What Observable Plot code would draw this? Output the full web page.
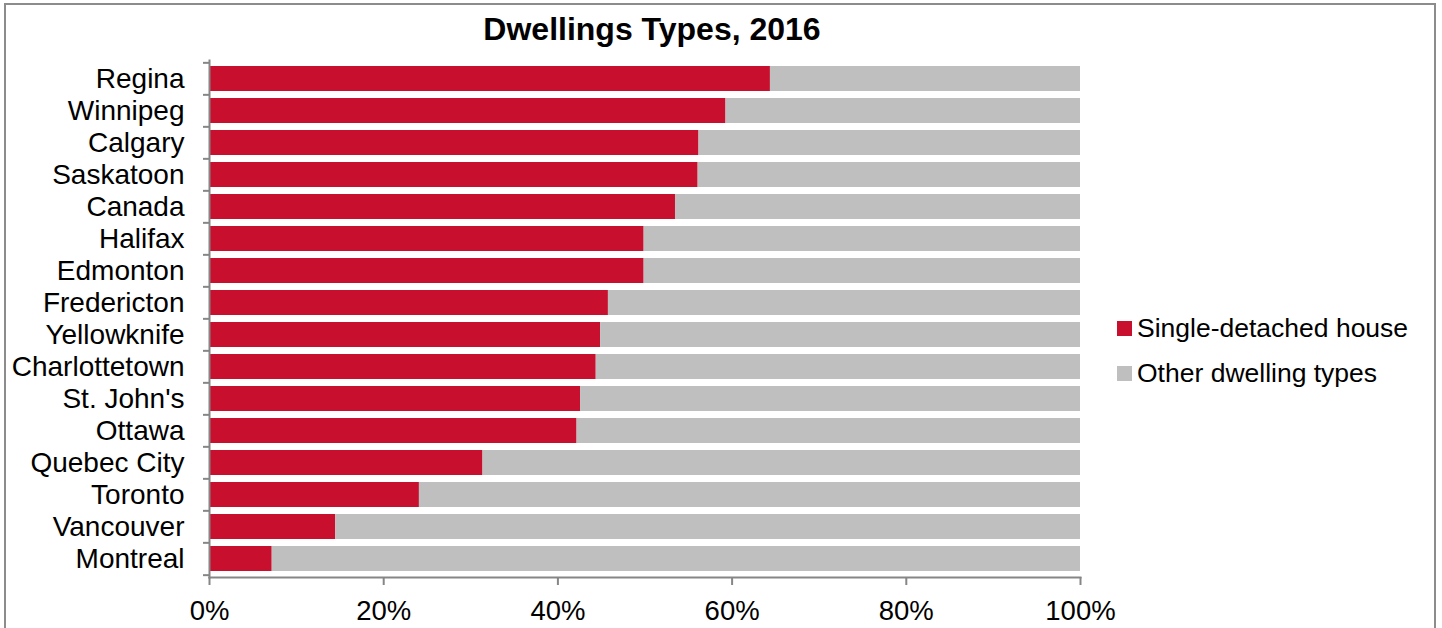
<!DOCTYPE html>
<html>
<head>
<meta charset="utf-8">
<script src="https://cdn.jsdelivr.net/npm/d3@7"></script>
<script src="https://cdn.jsdelivr.net/npm/@observablehq/plot@0.6"></script>
<style>
  html, body { margin: 0; padding: 0; background: #fff; }
  body { width: 1442px; height: 628px; overflow: hidden; font-family: "Liberation Sans", Arial, sans-serif; }
  #wrap { position: relative; width: 1442px; height: 628px; }
  #border { position: absolute; left: 4px; top: 3px; width: 1432px; height: 640px; border: 2px solid #8c8c8c; box-sizing: border-box; }
  #title { position: absolute; left: 452px; width: 400px; top: 13px; text-align: center; font-size: 32px; line-height: 32px; font-weight: bold; color: #000; white-space: nowrap; }
  #chart { position: absolute; left: 0; top: 56px; }
  .leg { position: absolute; left: 1117px; display: flex; align-items: center; height: 30px; font-size: 26.5px; color: #000; white-space: nowrap; }
  .sw { width: 15px; height: 15px; margin-right: 5px; }
</style>
</head>
<body>
<div id="wrap">
  <div id="border"></div>
  <div id="title">Dwellings Types, 2016</div>
  <div id="chart"></div>
  <div id="legend"></div>
</div>
<script>
const cities = ["Regina","Winnipeg","Calgary","Saskatoon","Canada","Halifax","Edmonton","Fredericton","Yellowknife","Charlottetown","St. John's","Ottawa","Quebec City","Toronto","Vancouver","Montreal"];
const singleDetached = [64.4, 59.3, 56.2, 56.1, 53.5, 49.9, 49.9, 45.8, 44.9, 44.4, 42.6, 42.2, 31.4, 24.1, 14.5, 7.2];
const seriesNames = ["Single-detached house", "Other dwelling types"];
const seriesColors = ["#C8102E", "#BFBFBF"];
const xTicks = [0, 20, 40, 60, 80, 100];

const data = [];
cities.forEach((c, i) => {
  data.push({city: c, type: seriesNames[0], value: singleDetached[i]});
  data.push({city: c, type: seriesNames[1], value: 100 - singleDetached[i]});
});

const W = 1442, H = 572;
const mTop = 4, mBottom = 51, mLeft = 209, mRight = 362;
const step = (H - mTop - mBottom) / cities.length;
const axisColor = "#868686";

const chart = Plot.plot({
  width: W,
  height: H,
  marginTop: mTop,
  marginBottom: mBottom,
  marginLeft: mLeft,
  marginRight: mRight,
  style: {fontFamily: "'Liberation Sans', Arial, sans-serif", fontSize: "28px", color: "#000", background: "transparent"},
  x: {domain: [0, 100]},
  y: {domain: cities, paddingInner: 0.22, paddingOuter: 0.11},
  color: {domain: seriesNames, range: seriesColors},
  marks: [
    Plot.barX(data, {y: "city", x: "value", fill: "type", order: seriesNames}),
    Plot.frame({anchor: "left", stroke: axisColor, strokeWidth: 2}),
    Plot.frame({anchor: "bottom", stroke: axisColor, strokeWidth: 2}),
    Plot.axisY({tickSize: 0, tickPadding: 25, fill: "#000", fontSize: 28, label: null}),
    Plot.axisY({tickSize: 6, tickFormat: () => "", dy: -step / 2, stroke: axisColor, strokeWidth: 2, label: null}),
    Plot.axisY({ticks: [cities[cities.length - 1]], tickSize: 6, tickFormat: () => "", dy: step / 2, stroke: axisColor, strokeWidth: 2, label: null}),
    Plot.axisX({ticks: xTicks, tickSize: 8, tickPadding: 15, tickFormat: d => d + "%", stroke: axisColor, strokeWidth: 2, fill: "#000", fontSize: 27.5, label: null})
  ]
});
document.getElementById("chart").appendChild(chart);

const legend = document.getElementById("legend");
seriesNames.forEach((name, i) => {
  const item = document.createElement("div");
  item.className = "leg";
  item.style.top = (313 + i * 45) + "px";
  const sw = document.createElement("div");
  sw.className = "sw";
  sw.style.background = seriesColors[i];
  const t = document.createElement("span");
  t.textContent = name;
  item.appendChild(sw);
  item.appendChild(t);
  legend.appendChild(item);
});
</script>
</body>
</html>
